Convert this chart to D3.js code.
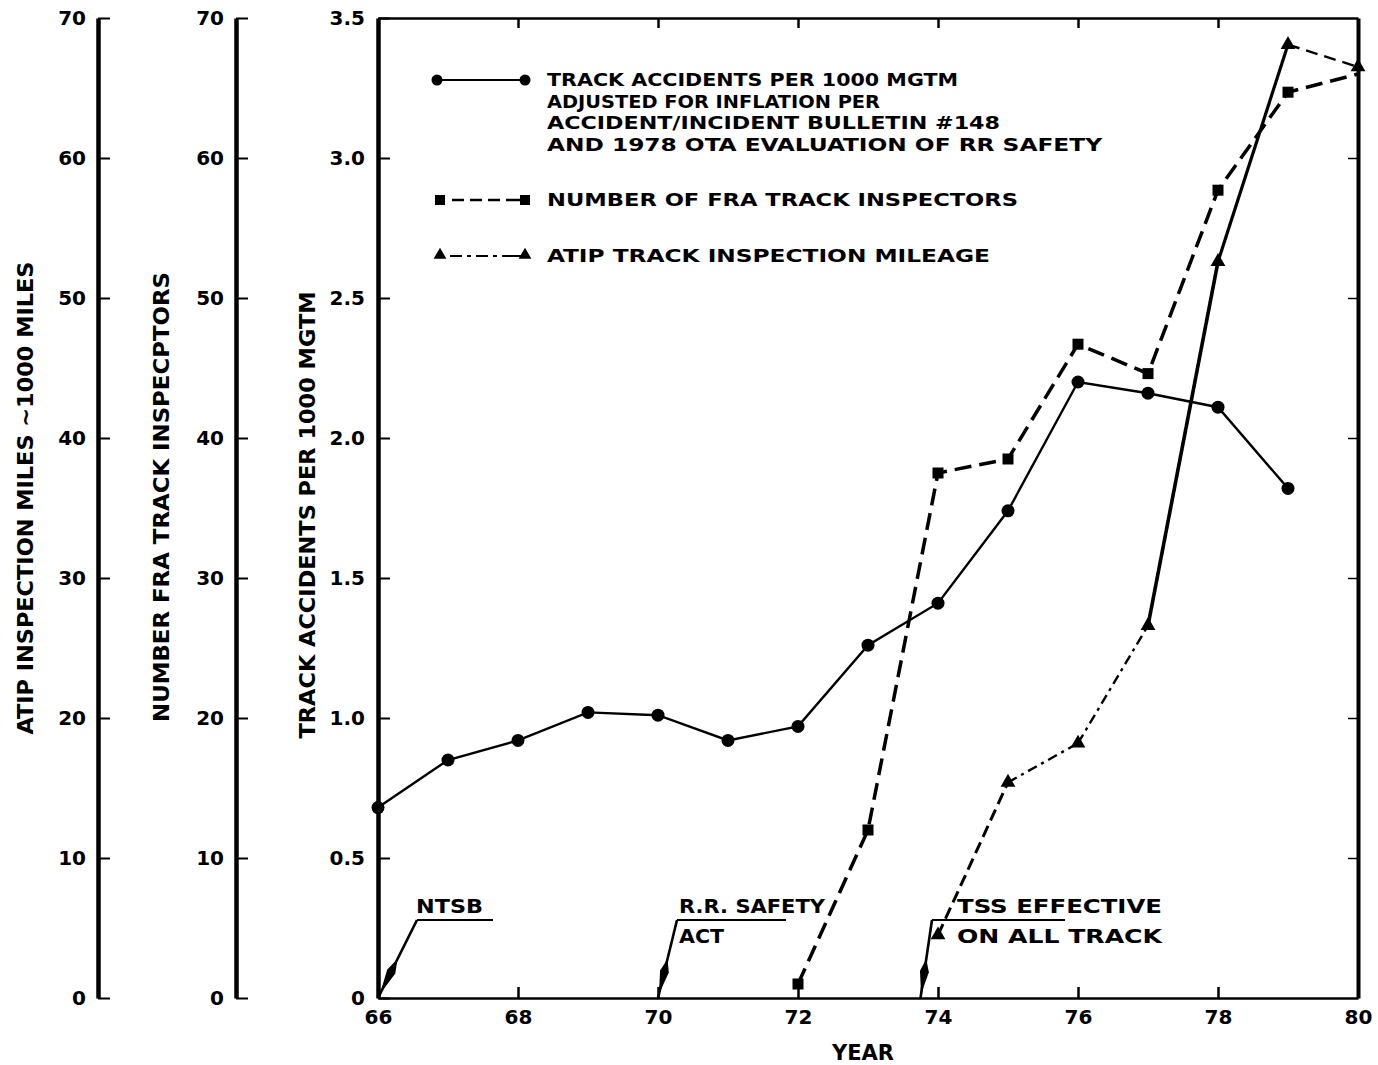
<!DOCTYPE html>
<html>
<head>
<meta charset="utf-8">
<script src="https://cdn.jsdelivr.net/npm/d3@7"></script>
<style>
  html, body { margin: 0; padding: 0; background: #fff; }
  svg { display: block; }
</style>
</head>
<body>
<svg id="chart" width="1378" height="1065"></svg>
<script>
// ---- data ----
const accidentYears = [66, 67, 68, 69, 70, 71, 72, 73, 74, 75, 76, 77, 78, 79];
const accidentRates = [0.68, 0.85, 0.92, 1.02, 1.01, 0.92, 0.97, 1.26, 1.41, 1.74, 2.20, 2.16, 2.11, 1.82];

const inspectorYears = [72, 73, 74, 75, 76, 77, 78, 79, 80];
const inspectorCounts = [1, 12, 37.5, 38.5, 46.7, 44.6, 57.7, 64.7, 66];

const atipYears = [74, 75, 76, 77, 78, 79, 80];
const atipMiles = [4.5, 15.4, 18.2, 26.6, 52.6, 68.1, 66.5];

const yearTicks = [66, 68, 70, 72, 74, 76, 78, 80];
const rateTicks = [0, 0.5, 1.0, 1.5, 2.0, 2.5, 3.0, 3.5];
const countTicks = [0, 10, 20, 30, 40, 50, 60, 70];

const accidentLegend = ["TRACK ACCIDENTS PER 1000 MGTM", "ADJUSTED FOR INFLATION PER",
  "ACCIDENT/INCIDENT BULLETIN #148", "AND 1978 OTA EVALUATION OF RR SAFETY"];
const inspectorLegend = "NUMBER OF FRA TRACK INSPECTORS";
const atipLegend = "ATIP TRACK INSPECTION MILEAGE";

const atipTitle = "ATIP INSPECTION MILES ~1000 MILES";
const inspectorTitle = "NUMBER FRA TRACK INSPECPTORS";
const rateTitle = "TRACK ACCIDENTS PER 1000 MGTM";
const yearTitle = "YEAR";

const eventYears = [66, 70, 73.75];
const eventLabels = [["NTSB"], ["R.R. SAFETY", "ACT"], ["TSS EFFECTIVE", "ON ALL TRACK"]];

// ---- scales ----
const svg = d3.select("#chart");
const x = d3.scaleLinear().domain([66, 80]).range([378, 1358]);
const yRate = d3.scaleLinear().domain([0, 3.5]).range([998, 18]);
const yCount = d3.scaleLinear().domain([0, 70]).range([998, 18]);

const FONT_NUM = "'DejaVu Sans', 'Liberation Sans', sans-serif";
const FONT_COND = "'DejaVu Sans Condensed', 'Liberation Sans Narrow', 'DejaVu Sans', sans-serif";

function styleNums(sel) {
  sel.selectAll("text")
    .attr("font-family", FONT_NUM)
    .attr("font-weight", "bold")
    .attr("font-size", 20)
    .attr("fill", "#000");
}

// ---- left count axes (ATIP miles, FRA inspectors) ----
function countAxis(xPos) {
  const g = svg.append("g").attr("transform", `translate(${xPos},0)`);
  g.call(d3.axisRight(yCount).tickValues(countTicks).tickSize(12).tickSizeOuter(0).tickFormat(""));
  g.select(".domain").attr("stroke-width", 4.5);
  g.selectAll(".tick line").attr("stroke-width", 2);
  const lg = svg.append("g").attr("transform", `translate(${xPos},0)`);
  lg.call(d3.axisLeft(yCount).tickValues(countTicks).tickSize(0).tickPadding(12).tickFormat(d3.format("d")));
  lg.select(".domain").remove();
  styleNums(lg);
}
countAxis(98);
countAxis(236);

// ---- main rate axis ----
const gm = svg.append("g").attr("transform", `translate(${x(66)},0)`);
gm.call(d3.axisRight(yRate).tickValues(rateTicks).tickSize(12).tickSizeOuter(0).tickFormat(""));
gm.select(".domain").attr("stroke-width", 4.5);
gm.selectAll(".tick line").attr("stroke-width", 2);
const gml = svg.append("g").attr("transform", `translate(${x(66)},0)`);
gml.call(d3.axisLeft(yRate).tickValues(rateTicks).tickSize(0).tickPadding(13)
  .tickFormat(d => d === 0 ? "0" : d3.format(".1f")(d)));
gml.select(".domain").remove();
styleNums(gml);

// ---- frame: right border ----
const gr = svg.append("g").attr("transform", `translate(${x(80)},0)`);
gr.call(d3.axisLeft(yRate).tickValues(rateTicks.slice(1, -1)).tickSize(10).tickSizeOuter(0).tickFormat(""));
gr.select(".domain").attr("stroke-width", 4);
gr.selectAll(".tick line").attr("stroke-width", 1.5);

// ---- frame: top border ----
const gt = svg.append("g").attr("transform", `translate(0,${yRate(3.5)})`);
gt.call(d3.axisBottom(x).tickValues(yearTicks.slice(1, -1)).tickSize(10).tickSizeOuter(0).tickFormat(""));
gt.select(".domain").attr("stroke-width", 2.5);
gt.selectAll(".tick line").attr("stroke-width", 2.5);

// ---- x axis ----
const gx = svg.append("g").attr("transform", `translate(0,${yRate(0)})`);
gx.call(d3.axisTop(x).tickValues(yearTicks.slice(1, -1)).tickSize(11).tickSizeOuter(0).tickFormat(""));
gx.select(".domain").attr("stroke-width", 2.5);
gx.selectAll(".tick line").attr("stroke-width", 2.5);
const gxl = svg.append("g").attr("transform", `translate(0,${yRate(0)})`);
gxl.call(d3.axisBottom(x).tickValues(yearTicks).tickSize(0).tickPadding(12).tickFormat(d3.format("d")));
gxl.select(".domain").remove();
styleNums(gxl);

// ---- axis titles ----
function vTitle(text, cx, cy, len) {
  svg.append("text")
    .attr("transform", `translate(${cx},${cy}) rotate(-90)`)
    .attr("text-anchor", "middle")
    .attr("dy", "0.36em")
    .attr("font-family", FONT_COND)
    .attr("font-weight", "bold")
    .attr("font-size", 22)
    .attr("textLength", len)
    .attr("lengthAdjust", "spacingAndGlyphs")
    .text(text);
}
vTitle(atipTitle, 25, 498, 473);
vTitle(inspectorTitle, 161, 497, 450);
vTitle(rateTitle, 307, 515, 447);

svg.append("text")
  .attr("x", 863).attr("y", 1052).attr("dy", "0.36em")
  .attr("text-anchor", "middle")
  .attr("font-family", FONT_COND).attr("font-weight", "bold").attr("font-size", 22)
  .attr("textLength", 62).attr("lengthAdjust", "spacingAndGlyphs")
  .text(yearTitle);

// ---- series ----
const lineGen = d3.line().x(d => x(d[0])).y(d => d[1]);

// track accidents: solid line with dots
const accPts = accidentYears.map((yr, i) => [yr, yRate(accidentRates[i])]);
svg.append("path").attr("d", lineGen(accPts))
  .attr("fill", "none").attr("stroke", "#000").attr("stroke-width", 2.4);
svg.append("g").selectAll("circle").data(accPts).join("circle")
  .attr("cx", d => x(d[0])).attr("cy", d => d[1]).attr("r", 6.5).attr("fill", "#000");

// FRA inspectors: dashed line with squares
const insPts = inspectorYears.map((yr, i) => [yr, yCount(inspectorCounts[i])]);
svg.append("path").attr("d", lineGen(insPts))
  .attr("fill", "none").attr("stroke", "#000").attr("stroke-width", 3.5)
  .attr("stroke-dasharray", "17,8");
svg.append("g").selectAll("rect").data(insPts.slice(0, -1)).join("rect")
  .attr("x", d => x(d[0]) - 5.5).attr("y", d => d[1] - 5.5)
  .attr("width", 11).attr("height", 11).attr("fill", "#000");

// ATIP mileage: segment strokes vary along the hand-drawn curve
const atipPts = atipYears.map((yr, i) => [yr, yCount(atipMiles[i])]);
const atipDash = ["12,6", "10,5,3,5", "10,5,3,5", null, null, "12,7"];
const atipWidth = [3, 2.4, 2.4, 3.6, 3.2, 2.4];
d3.pairs(atipPts).forEach((seg, i) => {
  const p = svg.append("path").attr("d", lineGen(seg))
    .attr("fill", "none").attr("stroke", "#000").attr("stroke-width", atipWidth[i]);
  if (atipDash[i]) p.attr("stroke-dasharray", atipDash[i]);
});
const tri = d3.symbol().type(d3.symbolTriangle).size(95);
svg.append("g").selectAll("path").data(atipPts).join("path")
  .attr("transform", d => `translate(${x(d[0])},${d[1]})`)
  .attr("d", tri).attr("fill", "#000");

// ---- legend ----
const legendText = (txt, y, len) => svg.append("text")
  .attr("x", 547).attr("y", y).attr("dy", "0.36em")
  .attr("font-family", FONT_COND).attr("font-weight", "bold").attr("font-size", 18)
  .attr("textLength", len).attr("lengthAdjust", "spacingAndGlyphs")
  .text(txt);

const accLens = [411, 333, 453, 555];
const accRows = [80, 101.5, 123, 144.5];
accidentLegend.forEach((t, i) => legendText(t, accRows[i], accLens[i]));
svg.append("line").attr("x1", 437).attr("x2", 525).attr("y1", 80).attr("y2", 80)
  .attr("stroke", "#000").attr("stroke-width", 2.2);
[437, 525].forEach(cx => svg.append("circle").attr("cx", cx).attr("cy", 80).attr("r", 5.5));

legendText(inspectorLegend, 200, 471);
svg.append("line").attr("x1", 440).attr("x2", 525).attr("y1", 200).attr("y2", 200)
  .attr("stroke", "#000").attr("stroke-width", 2.4).attr("stroke-dasharray", "0,12,12,6,12,6,12,6,12");
[440, 525].forEach(cx => svg.append("rect").attr("x", cx - 5).attr("y", 195).attr("width", 10).attr("height", 10));

legendText(atipLegend, 256, 443);
svg.append("line").attr("x1", 440).attr("x2", 525).attr("y1", 256).attr("y2", 256)
  .attr("stroke", "#000").attr("stroke-width", 2).attr("stroke-dasharray", "0,10,12,5,4,5,12,5,4,5,12");
[440, 525].forEach(cx => svg.append("path")
  .attr("transform", `translate(${cx},255)`).attr("d", d3.symbol().type(d3.symbolTriangle).size(70)));

// ---- event annotations ----
const eventLayout = [
  { sx: 417, ulEnd: 493, tx: 416, lens: [67] },
  { sx: 677, ulEnd: 786, tx: 679, lens: [146, 45] },
  { sx: 932, ulEnd: 1065, tx: 957, lens: [205, 205] }
];
const ulY = 920;
eventYears.forEach((yr, i) => {
  const L = eventLayout[i];
  const ex = x(yr), ey = yRate(0);
  const g = svg.append("g");
  // underline and leader
  g.append("line").attr("x1", L.sx).attr("x2", L.ulEnd).attr("y1", ulY).attr("y2", ulY)
    .attr("stroke", "#000").attr("stroke-width", 2);
  g.append("line").attr("x1", L.sx).attr("y1", ulY).attr("x2", ex).attr("y2", ey)
    .attr("stroke", "#000").attr("stroke-width", 2.6);
  // arrowhead along the leader, pointing at the axis
  const dx = ex - L.sx, dy = ey - ulY, len = Math.hypot(dx, dy);
  const ux = dx / len, uy = dy / len, nx = -uy, ny = ux;
  const t0 = 0.5, t1 = 0.95, hw = 4.5;
  const bx = L.sx + dx * t0, by = ulY + dy * t0;
  const tx = L.sx + dx * t1, ty = ulY + dy * t1;
  const mx = L.sx + dx * 0.66, my = ulY + dy * 0.66;
  g.append("path")
    .attr("d", `M${bx},${by}L${mx + nx * hw},${my + ny * hw}L${tx},${ty}L${mx - nx * hw},${my - ny * hw}Z`)
    .attr("fill", "#000");
  // label lines
  eventLabels[i].forEach((t, j) => {
    g.append("text")
      .attr("x", L.tx).attr("y", 906 + j * 30).attr("dy", "0.36em")
      .attr("font-family", FONT_NUM).attr("font-weight", "bold").attr("font-size", 19)
      .attr("textLength", L.lens[j]).attr("lengthAdjust", "spacingAndGlyphs")
      .text(t);
  });
});
</script>
</body>
</html>
